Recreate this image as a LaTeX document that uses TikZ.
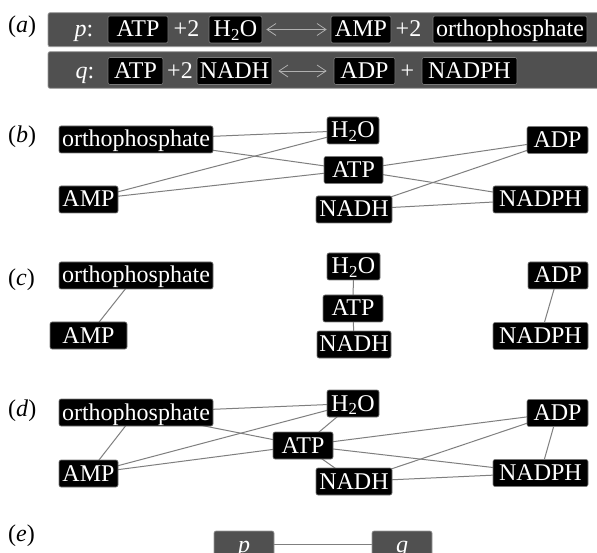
\documentclass[tikz,border=0pt]{standalone}
\usepackage{fontspec}
\setmainfont{Liberation Serif}
\usetikzlibrary{arrows.meta,backgrounds}
\definecolor{bargray}{HTML}{505050}
\definecolor{barline}{HTML}{9A9A9A}
\definecolor{boxline}{HTML}{7A7A7A}
\definecolor{edgegray}{HTML}{7F7F7F}
\definecolor{arrowgray}{HTML}{B0B0B0}
\pgfdeclarelayer{paper}
\pgfsetlayers{paper,background,main}
\tikzset{
  chem/.style={fill=black, draw=boxline, line width=0.6pt, rounded corners=2pt,
    text=white, inner xsep=0pt, inner ysep=0pt, minimum height=27pt,
    text height=20pt, text depth=5pt, font=\fontsize{24}{28}\selectfont},
  plain/.style={text=white, inner sep=0pt, font=\fontsize{24}{28}\selectfont,
    text height=20pt, text depth=5pt},
  panel/.style={inner sep=0pt, anchor=base west, font=\fontsize{24}{28}\selectfont},
  bar/.style={fill=bargray, draw=barline, line width=0.8pt, rounded corners=2pt},
  rbox/.style={fill=bargray, draw=barline, line width=0.6pt, rounded corners=2pt,
    text=white, inner sep=0pt, minimum height=27pt, text height=20pt, text depth=5pt,
    font=\fontsize{24}{28}\selectfont},
  link/.style={draw=edgegray, line width=1pt},
  eqarrow/.style={draw=arrowgray, line width=0.8pt,
    {Straight Barb[length=9pt,width=12pt]}-{Straight Barb[length=9pt,width=12pt]}}
}
\begin{document}
\begin{tikzpicture}[x=1pt,y=-1pt]
\useasboundingbox (0,0) rectangle (597,553);
\clip (0,0) rectangle (597,553);
\begin{pgfonlayer}{paper}
\fill[white] (0,0) rectangle (597,553);
\end{pgfonlayer}

% panel labels
\node[panel] (la) at (8,32.5) {(\textit{a})};
\node[panel] (lb) at (8,143) {(\textit{b})};
\node[panel] (lc) at (8,286) {(\textit{c})};
\node[panel] (ld) at (8,416.5) {(\textit{d})};
\node[panel] (le) at (8,541.5) {(\textit{e})};

% (a) reaction bars
\path[bar] (48,12.7) rectangle (600,46.7);
\path[bar] (48,51.7) rectangle (600,88.3);

% row p
\node[plain] (pl) at (84,29.5) {\textit{p}:};
\node[chem, minimum width=60pt] (atpP) at (138,29.5) {ATP};
\node[plain] (p2a) at (186.5,29.5) {+2};
\node[chem, minimum width=53pt] (h2oP) at (235.5,29.5) {H\textsubscript{2}O};
\node[chem, minimum width=60pt] (ampP) at (361,29.5) {AMP};
\node[plain] (p2b) at (408.5,29.5) {+2};
\node[chem, minimum width=154pt] (orthoP) at (510,29.5) {orthophosphate};
\draw[eqarrow, shorten <=4pt, shorten >=4pt] (h2oP.east) -- (ampP.west);

% row q
\node[plain] (ql) at (85,71) {\textit{q}:};
\node[chem, minimum width=55pt] (atpQ) at (135.5,71) {ATP};
\node[plain] (q2a) at (180,71) {+2};
\node[chem, minimum width=75pt] (nadhQ) at (234.5,71) {NADH};
\node[chem, minimum width=61pt] (adpQ) at (364.5,71) {ADP};
\node[plain] (qplus) at (407.5,71) {+};
\node[chem, minimum width=95pt] (nadphQ) at (469.5,71) {NADPH};
\draw[eqarrow, shorten <=6pt, shorten >=7pt] (nadhQ.east) -- (adpQ.west);

% (b)
\node[chem, minimum width=154pt] (orthoB) at (136,139.5) {orthophosphate};
\node[chem, minimum width=59pt] (ampB) at (88.5,199.5) {AMP};
\node[chem, minimum width=52pt] (h2oB) at (353,130.5) {H\textsubscript{2}O};
\node[chem, minimum width=59pt] (atpB) at (353.5,170) {ATP};
\node[chem, minimum width=76pt] (nadhB) at (354,209.5) {NADH};
\node[chem, minimum width=61pt] (adpB) at (557.5,140) {ADP};
\node[chem, minimum width=95pt] (nadphB) at (540.5,199.5) {NADPH};

% (c)
\node[chem, minimum width=154pt] (orthoC) at (136,275.5) {orthophosphate};
\node[chem, minimum width=77pt] (ampC) at (88.5,335.5) {AMP};
\node[chem, minimum width=53pt] (h2oC) at (353.5,266.5) {H\textsubscript{2}O};
\node[chem, minimum width=60pt] (atpC) at (353,308.5) {ATP};
\node[chem, minimum width=74pt] (nadhC) at (354,344.5) {NADH};
\node[chem, minimum width=60pt] (adpC) at (558,275.5) {ADP};
\node[chem, minimum width=95pt] (nadphC) at (540.5,336) {NADPH};

% (d)
\node[chem, minimum width=154pt] (orthoD) at (136,412.5) {orthophosphate};
\node[chem, minimum width=59pt] (ampD) at (88.5,473.5) {AMP};
\node[chem, minimum width=60pt] (atpD) at (303,445.5) {ATP};
\node[chem, minimum width=52pt] (h2oD) at (353,403.5) {H\textsubscript{2}O};
\node[chem, minimum width=76pt] (nadhD) at (354,481.5) {NADH};
\node[chem, minimum width=61pt] (adpD) at (557.5,413) {ADP};
\node[chem, minimum width=95pt] (nadphD) at (540.5,473) {NADPH};

% (e)
\node[rbox, minimum width=60pt] (pE) at (244,544.5) {\textit{p}};
\node[rbox, minimum width=60pt] (qE) at (402,544.5) {\textit{q}};

\begin{pgfonlayer}{background}
  % (b)
  \draw[link] (orthoB.center) -- (h2oB.center);
  \draw[link] (orthoB.center) -- (atpB.center);
  \draw[link] (ampB.center) -- (h2oB.center);
  \draw[link] (ampB.center) -- (atpB.center);
  \draw[link] (atpB.center) -- (adpB.center);
  \draw[link] (atpB.center) -- (nadphB.center);
  \draw[link] (nadhB.center) -- (adpB.center);
  \draw[link] (nadhB.center) -- (nadphB.center);
  % (c)
  \draw[link] (orthoC.center) -- (ampC.center);
  \draw[link] (h2oC.center) -- (atpC.center);
  \draw[link] (atpC.center) -- (nadhC.center);
  \draw[link] (adpC.center) -- (nadphC.center);
  % (d)
  \draw[link] (orthoD.center) -- (h2oD.center);
  \draw[link] (orthoD.center) -- (atpD.center);
  \draw[link] (orthoD.center) -- (ampD.center);
  \draw[link] (ampD.center) -- (h2oD.center);
  \draw[link] (ampD.center) -- (atpD.center);
  \draw[link] (h2oD.center) -- (atpD.center);
  \draw[link] (atpD.center) -- (nadhD.center);
  \draw[link] (atpD.center) -- (adpD.center);
  \draw[link] (atpD.center) -- (nadphD.center);
  \draw[link] (nadhD.center) -- (adpD.center);
  \draw[link] (nadhD.center) -- (nadphD.center);
  \draw[link] (adpD.center) -- (nadphD.center);
  % (e)
  \draw[link] (pE.center) -- (qE.center);
\end{pgfonlayer}
\end{tikzpicture}
\end{document}
